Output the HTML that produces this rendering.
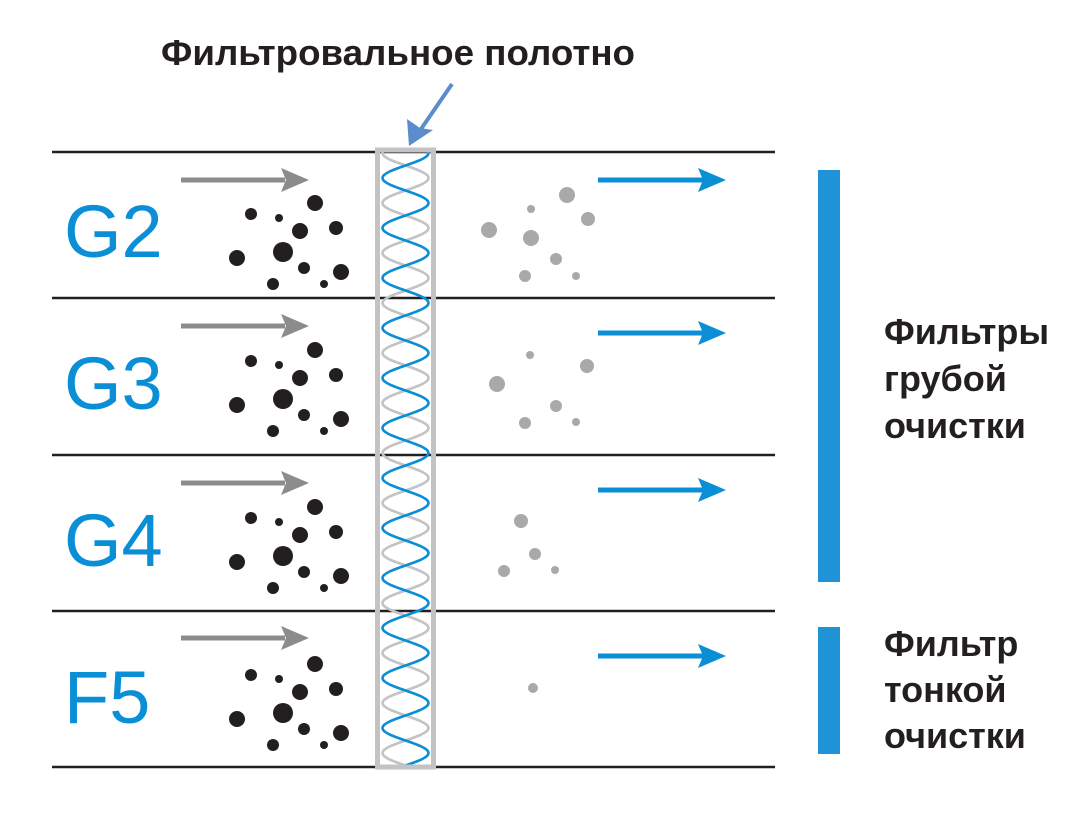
<!DOCTYPE html>
<html><head><meta charset="utf-8"><style>
html,body{margin:0;padding:0;background:#fff;}
svg{display:block;}
text{font-family:"Liberation Sans",Arial,sans-serif;}
</style></head><body>
<svg id="s" width="1090" height="819" viewBox="0 0 1090 819" xmlns="http://www.w3.org/2000/svg">
<text x="398" y="65" font-size="36" font-weight="bold" fill="#231f20" text-anchor="middle" textLength="474" lengthAdjust="spacingAndGlyphs">Фильтровальное полотно</text>
<line x1="452" y1="84" x2="419" y2="132" stroke="#5b8ccc" stroke-width="4"/>
<polygon points="409,146 407,119 420,128 433,130" fill="#5b8ccc"/>
<g stroke="#231f20" stroke-width="2.5">
<line x1="52" y1="152" x2="775" y2="152"/>
<line x1="52" y1="298" x2="775" y2="298"/>
<line x1="52" y1="455" x2="775" y2="455"/>
<line x1="52" y1="611" x2="775" y2="611"/>
<line x1="52" y1="767" x2="775" y2="767"/>
</g>
<g font-size="74" fill="#0a8fd6">
<text x="64" y="257">G2</text>
<text x="64" y="409">G3</text>
<text x="64" y="566">G4</text>
<text x="64" y="723">F5</text>
</g>
<g id="helix"></g>
<rect x="377.5" y="150" width="56" height="617" fill="none" stroke="#c3c3c5" stroke-width="5"/>
<g id="dyn"></g>
<rect x="818" y="170" width="22" height="412" fill="#1e93d6"/>
<rect x="818" y="627" width="22" height="127" fill="#1e93d6"/>
<g font-size="36" font-weight="bold" fill="#231f20">
<text x="884" y="344">Фильтры</text>
<text x="884" y="391">грубой</text>
<text x="884" y="438">очистки</text>
<text x="884" y="656">Фильтр</text>
<text x="884" y="702">тонкой</text>
<text x="884" y="748">очистки</text>
</g>
</svg>
<script>
var NS="http://www.w3.org/2000/svg";
function el(p,n,a){var e=document.createElementNS(NS,n);for(var k in a)e.setAttribute(k,a[k]);p.appendChild(e);return e;}
var h=document.getElementById('helix');
function wave(ph,col){var d="";for(var y=152;y<=766;y+=1){var x=405.5+23*Math.cos((y-153)/50*2*Math.PI+ph);d+=(y==152?"M":"L")+x.toFixed(1)+","+y;}el(h,"path",{d:d,fill:"none",stroke:col,"stroke-width":2.6});}
wave(Math.PI,"#c3c3c5");wave(0,"#0a8fd6");
var g=document.getElementById('dyn');
var black=[[315,203,8],[251,214,6],[279,218,4],[300,231,8],[336,228,7],[237,258,8],[283,252,10],[304,268,6],[341,272,8],[273,284,6],[324,284,4]];
var offs=[0,147,304,461];
offs.forEach(function(o){black.forEach(function(b){el(g,"circle",{cx:b[0],cy:b[1]+o,r:b[2],fill:"#231f20"});});});
var grays=[[567,195,8],[531,209,4],[588,219,7],[489,230,8],[531,238,8],[556,259,6],[525,276,6],[576,276,4],
[530,355,4],[587,366,7],[497,384,8],[556,406,6],[525,423,6],[576,422,4],
[521,521,7],[535,554,6],[504,571,6],[555,570,4],[533,688,5]];
grays.forEach(function(b){el(g,"circle",{cx:b[0],cy:b[1],r:b[2],fill:"#a8a9ab"});});
[180,326,483,638].forEach(function(y){el(g,"line",{x1:181,y1:y,x2:285,y2:y,stroke:"#8c8c8e","stroke-width":5});el(g,"polygon",{points:"281,"+(y-12)+" 309,"+y+" 281,"+(y+12)+" 286,"+y,fill:"#8c8c8e"});});
[180,333,490,656].forEach(function(y){el(g,"line",{x1:598,y1:y,x2:704,y2:y,stroke:"#0a8fd6","stroke-width":5});el(g,"polygon",{points:"698,"+(y-12)+" 726,"+y+" 698,"+(y+12)+" 703,"+y,fill:"#0a8fd6"});});
</script>
</body></html>
